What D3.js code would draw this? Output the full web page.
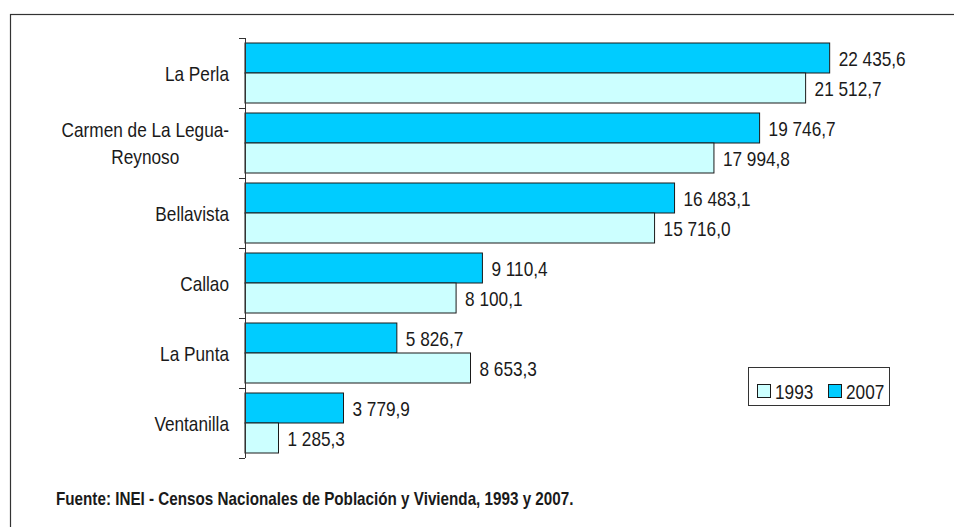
<!DOCTYPE html>
<html>
<head>
<meta charset="utf-8">
<script src="https://cdn.jsdelivr.net/npm/d3@7"></script>
<style>
  html, body { margin: 0; padding: 0; background: #fff; }
  svg { display: block; }
  text { font-family: "Liberation Sans", Arial, sans-serif; fill: #1a1a1a; }
</style>
</head>
<body>
<svg id="chart" width="954" height="527"></svg>
<script>
// ---- data ----
const categories = ["La Perla", "Carmen de La Legua-\nReynoso", "Bellavista", "Callao", "La Punta", "Ventanilla"];
const values2007 = [22435.6, 19746.7, 16483.1, 9110.4, 5826.7, 3779.9];
const values1993 = [21512.7, 17994.8, 15716.0, 8100.1, 8653.3, 1285.3];
const seriesNames = ["1993", "2007"];
const sourceNote = "Fuente: INEI - Censos Nacionales de Población y Vivienda, 1993 y 2007.";

// ---- layout ----
const svg = d3.select("#chart");
const colors = { "2007": "#00CCFF", "1993": "#CCFFFF" };
const stroke = "#1a1a1a";
const NARROW = 0.82;

function ntext(parent, x0, y0, str, size, anchor) {
  return parent.append("text")
    .attr("transform", `translate(${x0},${y0}) scale(${NARROW},1)`)
    .attr("font-size", size)
    .attr("text-anchor", anchor || "start")
    .text(str);
}

// outer frame
svg.append("rect")
  .attr("x", 10.5).attr("y", 14.5)
  .attr("width", 980).attr("height", 540)
  .attr("fill", "none").attr("stroke", "#333").attr("stroke-width", 1.2);

const x = d3.scaleLinear().domain([0, 25000]).range([245, 896.5]);
const y = d3.scaleBand().domain(categories).range([38, 458]).paddingInner(0).paddingOuter(0);
const inner = 5;

const fmt = v => d3.format(",.1f")(v).replace(/,/g, " ").replace(".", ",");

const rows = categories.map((c, i) => ({ c, v2007: values2007[i], v1993: values1993[i] }));

const g = svg.append("g");
const barH = (y.bandwidth() - 2 * inner) / 2;

rows.forEach(r => {
  const top = y(r.c) + inner;
  [["2007", r.v2007, top], ["1993", r.v1993, top + barH]].forEach(([s, v, yy]) => {
    g.append("rect")
      .attr("x", x(0)).attr("y", yy)
      .attr("width", x(v) - x(0)).attr("height", barH)
      .attr("fill", colors[s]).attr("stroke", stroke).attr("stroke-width", 1);
    ntext(g, x(v) + 9, yy + barH / 2 + 7.5, fmt(v), 21);
  });
});

// axis
const axis = d3.axisLeft(y).tickSize(6).tickFormat("");
const ax = svg.append("g").attr("transform", `translate(${x(0)},0)`).call(axis);
ax.selectAll(".tick").remove();
const bounds = d3.range(categories.length + 1).map(i => 38 + i * y.bandwidth());
ax.selectAll("line.b").data(bounds).join("line")
  .attr("class", "b")
  .attr("x1", -6).attr("x2", 0)
  .attr("y1", d => d + 0.5).attr("y2", d => d + 0.5)
  .attr("stroke", "#333");
ax.select(".domain").attr("stroke", "#333").attr("d", `M0.5,${bounds[0]}V${bounds[bounds.length - 1]}`);

// category labels
rows.forEach(r => {
  const lines = r.c.split("\n");
  const cy = y(r.c) + y.bandwidth() / 2;
  const lh = 26.6;
  const grp = svg.append("g");
  const texts = lines.map((ln, i) =>
    ntext(grp, 0, cy + 7.5 + (i - (lines.length - 1) / 2) * lh, ln, 21, "middle"));
  const w = d3.max(texts, t => t.node().getComputedTextLength()) * NARROW;
  grp.attr("transform", `translate(${229 - w / 2},0)`);
});

// legend
const lg = svg.append("g");
lg.append("rect").attr("x", 748.5).attr("y", 367.5).attr("width", 141).attr("height", 38)
  .attr("fill", "#fff").attr("stroke", "#333");
const legendPos = { "1993": 757, "2007": 828 };
seriesNames.forEach(s => {
  lg.append("rect").attr("x", legendPos[s] + 0.5).attr("y", 384.5).attr("width", 13).attr("height", 13)
    .attr("fill", colors[s]).attr("stroke", stroke);
  ntext(lg, legendPos[s] + 18, 399, s, 21);
});

// source
const src = svg.append("text")
  .attr("font-size", 17.5).attr("font-weight", "bold")
  .text(sourceNote);
const sl = src.node().getComputedTextLength();
src.attr("transform", `translate(56,505) scale(${518 / sl},1)`);
</script>
</body>
</html>
